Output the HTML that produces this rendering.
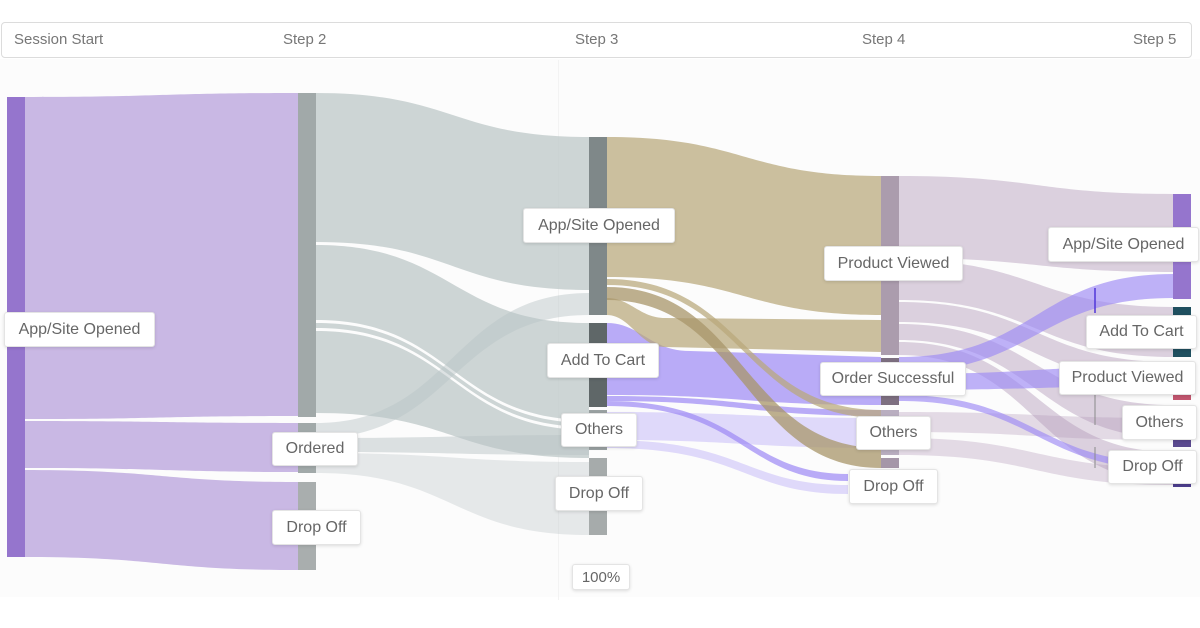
<!DOCTYPE html>
<html>
<head>
<meta charset="utf-8">
<style>
  html,body{margin:0;padding:0;background:#fff;}
  body{width:1200px;height:628px;position:relative;overflow:hidden;font-family:"Liberation Sans",sans-serif;}
  .hdr{position:absolute;left:1px;top:22px;width:1191px;height:36px;box-sizing:border-box;border:1px solid #dcdcdc;border-radius:4px;background:#fff;}
  .ht{position:absolute;top:31px;font-size:15px;color:#777;line-height:18px;white-space:nowrap;}
  .lb{position:absolute;box-sizing:border-box;background:#fff;border:1px solid #e4e4e4;border-radius:3px;box-shadow:0 1px 3px rgba(0,0,0,0.13);display:flex;align-items:center;justify-content:center;font-size:16px;color:#666;white-space:nowrap;}
  svg{position:absolute;left:0;top:0;}
</style>
</head>
<body>
<svg width="1200" height="628" viewBox="0 0 1200 628">
  <rect x="0" y="59" width="1200" height="538" fill="#fcfcfc"/>
  <line x1="558.5" y1="60" x2="558.5" y2="600" stroke="#f3f3f3" stroke-width="1"/>

  <!-- Step1 -> Step2 links -->
  <g fill="#c9b8e4">
    <path d="M25 97 C161.5 97 161.5 93 298 93 L298 416 C161.5 416 161.5 419 25 419 Z"/>
    <path d="M25 421 C161.5 421 161.5 423 298 423 L298 472 C161.5 472 161.5 468 25 468 Z"/>
    <path d="M25 470 C161.5 470 161.5 482 298 482 L298 570 C161.5 570 161.5 557 25 557 Z"/>
  </g>

  <!-- Step2 -> Step3 links -->
  <g fill="#b9c4c5">
    <path opacity="0.7" d="M316 93 C452.5 93 452.5 137 589 137 L589 290 C452.5 290 452.5 242 316 242 Z"/>
    <path opacity="0.7" d="M316 245 C452.5 245 452.5 323 589 323 L589 420 C452.5 420 452.5 320 316 320 Z"/>
    <path opacity="0.7" d="M316 323 C452.5 323 452.5 423 589 423 L589 427 C452.5 427 452.5 328 316 328 Z"/>
    <path opacity="0.7" d="M316 331 C452.5 331 452.5 430 589 430 L589 458 C452.5 458 452.5 413 316 413 Z"/>
    <path opacity="0.45" d="M316 423 C452.5 423 452.5 293 589 293 L589 315 C452.5 315 452.5 438 316 438 Z"/>
    <path opacity="0.5" d="M316 438 C452.5 438 452.5 435 589 435 L589 455 C452.5 455 452.5 452 316 452 Z"/>
    <path opacity="0.35" d="M316 453 C452.5 453 452.5 462 589 462 L589 535 C452.5 535 452.5 473 316 473 Z"/>
  </g>

  <!-- Step3 -> Step4 links -->
  <g>
    <path fill="#9d89f5" opacity="0.7" d="M607 323 C640 323 650 351 690 351 L881 357 L881 405 C744 405 744 395 607 395 Z"/>
    <path fill="#9d89f5" opacity="0.7" d="M607 396 C744 396 744 410 881 410 L881 416 C744 416 744 401 607 401 Z"/>
    <path fill="#9d89f5" opacity="0.7" d="M607 401 C744 401 744 474 848 474 L848 481 C744 481 744 406 607 406 Z"/>
    <path fill="#9d89f5" opacity="0.3" d="M607 412 C744 412 744 418 881 418 L881 448 C744 448 744 440 607 440 Z"/>
    <path fill="#9d89f5" opacity="0.3" d="M607 440 C744 440 744 485 848 485 L848 494 C744 494 744 448 607 448 Z"/>
    <path fill="#b9a77a" opacity="0.72" d="M607 137 C744 137 744 176 881 176 L881 315 C744 315 744 277 607 277 Z"/>
    <path fill="#b9a77a" opacity="0.72" d="M607 298 C630 298 640 318 665 318 L881 320 L881 352 L665 347 C640 347 630 315 607 315 Z"/>
    <path fill="#b9a77a" opacity="0.72" d="M607 279 C744 279 744 410 881 410 L881 418 C744 418 744 285 607 285 Z"/>
    <path fill="#a8966a" opacity="0.75" d="M607 287 C744 287 744 448 881 448 L881 468 C744 468 744 300 607 300 Z"/>
  </g>

  <!-- Step4 -> Step5 links -->
  <g fill="#b49bbb">
    <path opacity="0.45" d="M899 176 C1036 176 1036 194 1173 194 L1173 272 C1036 272 1036 258 899 258 Z"/>
    <path opacity="0.45" d="M899 260 C1036 260 1036 307 1173 307 L1173 357 C1036 357 1036 300 899 300 Z"/>
    <path opacity="0.45" d="M899 302 C1036 302 1036 362 1173 362 L1173 385 C1036 385 1036 322 899 322 Z"/>
    <path opacity="0.45" d="M899 324 C1036 324 1036 405 1173 405 L1173 438 C1036 438 1036 340 899 340 Z"/>
    <path opacity="0.45" d="M899 342 C1036 342 1036 452 1173 452 L1173 482 C1036 482 1036 355 899 355 Z"/>
    <path opacity="0.35" d="M899 412 C1036 412 1036 418 1173 418 L1173 440 C1036 440 1036 432 899 432 Z"/>
    <path opacity="0.35" d="M899 438 C1036 438 1036 468 1173 468 L1173 485 C1036 485 1036 455 899 455 Z"/>
  </g>
  <g fill="#9d89f5">
    <path opacity="0.65" d="M899 357 C1036 357 1036 274 1173 274 L1173 298 C1036 298 1036 372 899 372 Z"/>
    <path opacity="0.65" d="M899 374 C1036 374 1036 366 1173 366 L1173 386 C1036 386 1036 390 899 390 Z"/>
    <path opacity="0.65" d="M899 395 C1036 395 1036 463 1173 463 L1173 470 C1036 470 1036 401 899 401 Z"/>
  </g>
  <line x1="1095" y1="288" x2="1095" y2="313" stroke="#5036d8" stroke-width="1.5"/>
  <line x1="1095" y1="395" x2="1095" y2="425" stroke="#8a8a8a" stroke-width="1"/>
  <line x1="1095" y1="447" x2="1095" y2="468" stroke="#8a8a8a" stroke-width="1"/>

  <!-- Nodes -->
  <rect x="7" y="97" width="18" height="460" fill="#9575cd"/>
  <rect x="298" y="93" width="18" height="324" fill="#a1a9a9"/>
  <rect x="298" y="423" width="18" height="50" fill="#a1a9a9"/>
  <rect x="298" y="482" width="18" height="88" fill="#a9aeae"/>

  <rect x="589" y="137" width="18" height="178" fill="#7f8889"/>
  <rect x="589" y="323" width="18" height="84" fill="#5f6768"/>
  <rect x="589" y="410" width="18" height="40" fill="#9aa1a2"/>
  <rect x="589" y="458" width="18" height="77" fill="#a6abab"/>

  <rect x="881" y="176" width="18" height="179" fill="#ab9cad"/>
  <rect x="881" y="358" width="18" height="47" fill="#7d6f80"/>
  <rect x="881" y="410" width="18" height="45" fill="#b9aec0"/>
  <rect x="881" y="458" width="18" height="10" fill="#a596a8"/>

  <rect x="1173" y="194" width="18" height="105" fill="#9575cd"/>
  <rect x="1173" y="307" width="18" height="50" fill="#1f4f5f"/>
  <rect x="1173" y="361" width="18" height="39" fill="#c2566f"/>
  <rect x="1173" y="405" width="18" height="42" fill="#5b4a8f"/>
  <rect x="1173" y="451" width="18" height="36" fill="#4f3f8f"/>
</svg>

<div class="hdr"></div>
<div class="ht" style="left:14px;">Session Start</div>
<div class="ht" style="left:283px;">Step 2</div>
<div class="ht" style="left:575px;">Step 3</div>
<div class="ht" style="left:862px;">Step 4</div>
<div class="ht" style="left:1133px;">Step 5</div>

<div class="lb" style="left:4px;top:312px;width:151px;height:35px;">App/Site Opened</div>
<div class="lb" style="left:272px;top:432px;width:86px;height:34px;">Ordered</div>
<div class="lb" style="left:272px;top:510px;width:89px;height:35px;">Drop Off</div>

<div class="lb" style="left:523px;top:208px;width:152px;height:35px;">App/Site Opened</div>
<div class="lb" style="left:547px;top:343px;width:112px;height:35px;">Add To Cart</div>
<div class="lb" style="left:561px;top:413px;width:76px;height:34px;">Others</div>
<div class="lb" style="left:555px;top:476px;width:88px;height:35px;">Drop Off</div>
<div class="lb" style="left:572px;top:564px;width:58px;height:26px;font-size:15px;">100%</div>

<div class="lb" style="left:824px;top:246px;width:139px;height:35px;">Product Viewed</div>
<div class="lb" style="left:820px;top:362px;width:146px;height:34px;">Order Successful</div>
<div class="lb" style="left:856px;top:416px;width:75px;height:34px;">Others</div>
<div class="lb" style="left:849px;top:469px;width:89px;height:35px;">Drop Off</div>

<div class="lb" style="left:1048px;top:227px;width:151px;height:35px;">App/Site Opened</div>
<div class="lb" style="left:1086px;top:315px;width:111px;height:34px;">Add To Cart</div>
<div class="lb" style="left:1059px;top:361px;width:137px;height:34px;">Product Viewed</div>
<div class="lb" style="left:1122px;top:405px;width:75px;height:35px;">Others</div>
<div class="lb" style="left:1108px;top:450px;width:89px;height:34px;">Drop Off</div>
</body>
</html>
